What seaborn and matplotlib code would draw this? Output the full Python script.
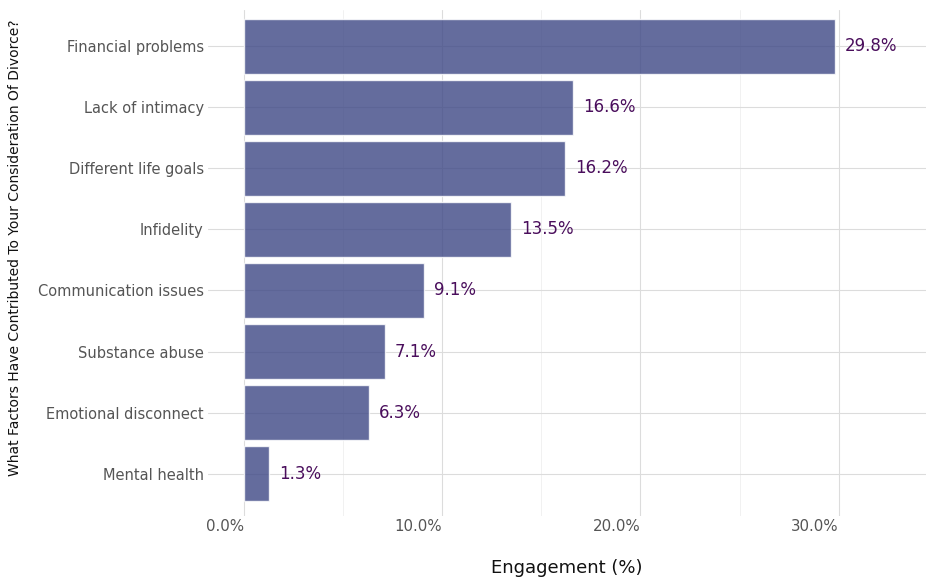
import pandas as pd
import seaborn as sns
import matplotlib.pyplot as plt
from matplotlib.ticker import MultipleLocator, FuncFormatter

factors = ['Financial problems', 'Lack of intimacy', 'Different life goals', 'Infidelity',
           'Communication issues', 'Substance abuse', 'Emotional disconnect', 'Mental health']
shares = [29.8, 16.6, 16.2, 13.5, 9.1, 7.1, 6.3, 1.3]

df = pd.DataFrame({'factor': factors, 'share': shares})

sns.set_style('white')
plt.rcParams['font.family'] = ['DejaVu Sans']

fig = plt.figure(figsize=(9.36, 5.86), dpi=100)
ax = fig.add_axes([0.2222, 0.1195, 0.7671, 0.8635])

sns.barplot(data=df, x='share', y='factor', orient='h', color='#3d4785',
            alpha=0.8, width=0.9, saturation=1, ax=ax, zorder=2)

for i, v in enumerate(df['share']):
    ax.text(v + 0.5, i, f'{v:.1f}%', va='center', ha='left',
            fontsize=12, color='#4a0e5c', zorder=3)

ax.set_xlim(-1.8, 34.4)
ax.set_ylim(7.69, -0.59)
ax.xaxis.set_major_locator(MultipleLocator(10))
ax.xaxis.set_minor_locator(MultipleLocator(5))
ax.xaxis.set_major_formatter(FuncFormatter(lambda v, p: f'{v:.1f}%'))

ax.grid(True, which='major', color='#dcdcdc', linewidth=0.8, zorder=0)
ax.grid(True, which='minor', axis='x', color='#efefef', linewidth=0.6, zorder=0)
ax.set_axisbelow(True)
for s in ax.spines.values():
    s.set_visible(False)

ax.tick_params(axis='x', which='major', length=2, color='#cccccc', labelsize=10.8,
               labelcolor='#555555', pad=0)
ax.tick_params(axis='x', which='minor', length=0)
ax.tick_params(axis='y', length=2, color='#cccccc', labelsize=10.5,
               labelcolor='#555555', pad=1)
for lab in ax.get_xticklabels():
    lab.set_ha('right')

ax.set_xlabel('Engagement (%)', fontsize=13, color='#111111', labelpad=18)
ax.set_ylabel('')
fig.text(0.016, 0.578, 'What Factors Have Contributed To Your Consideration Of Divorce?',
         rotation=90, va='center', ha='center', fontsize=10, color='#111111')

plt.savefig('out.png', dpi=100)
